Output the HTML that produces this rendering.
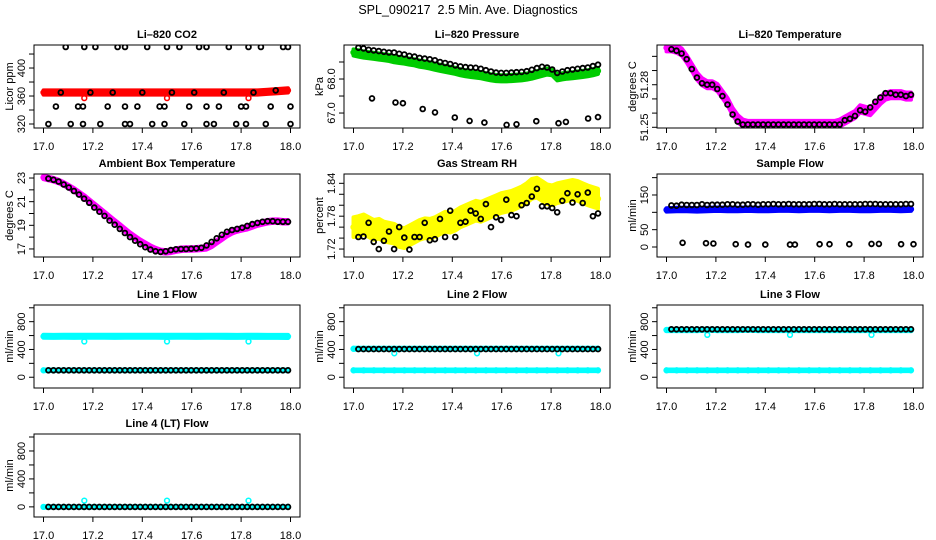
<!DOCTYPE html>
<html><head><meta charset="utf-8"><title>SPL_090217 Diagnostics</title>
<style>
html,body{margin:0;padding:0;background:#fff;}
svg{display:block;font-family:"Liberation Sans",Arial,sans-serif;}
</style></head>
<body>
<svg id="chart" width="936" height="540" viewBox="0 0 936 540" xmlns="http://www.w3.org/2000/svg">
<rect x="0" y="0" width="936" height="540" fill="#fff"/>
<text x="468" y="14" text-anchor="middle" font-size="12.5" style="white-space:pre">SPL_090217&#160; 2.5 Min. Ave. Diagnostics</text>
</svg>
<script>
// ---------- shared axis data ----------
const xTicks = [17.0, 17.2, 17.4, 17.6, 17.8, 18.0];
const xTickLabels = ["17.0", "17.2", "17.4", "17.6", "17.8", "18.0"];
const xStart = 17.0, xEnd = 17.99;
const bStart = 17.02, bEnd = 17.99;

// ---------- CO2 ----------
const co2Ticks = [320, 340, 360, 380, 400, 420];
const co2Labels = ["320", "", "360", "", "400", ""];
const co2Red = [365,365,365,365,365,365,365,365,365,365,365,365,365,365,365,365,365,365,365,365,365,365,366,367,368];
const co2RedSpread = 3;
const co2RedOutX = [17.165, 17.50, 17.83];
const co2RedOutY = [357, 357, 357];
const co2BlackX = [17.09,17.165,17.21,17.30,17.33,17.42,17.50,17.55,17.63,17.66,17.75,17.83,17.88,17.97,17.99,
  17.07,17.19,17.28,17.40,17.52,17.61,17.73,17.85,17.94,
  17.05,17.14,17.16,17.26,17.33,17.38,17.47,17.49,17.59,17.66,17.71,17.80,17.82,17.92,18.00,
  17.02,17.11,17.16,17.23,17.33,17.35,17.44,17.49,17.57,17.66,17.69,17.78,17.82,17.90,18.00];
const co2BlackY = [430,430,430,430,430,430,430,430,430,430,430,430,430,430,430,
  365,365,365,365,365,365,365,365,368,
  345,345,345,345,345,345,345,345,345,345,345,345,345,345,345,
  320,320,320,320,320,320,320,320,320,320,320,320,320,320,320];

// ---------- Pressure ----------
const presTicks = [67.0, 67.5, 68.0, 68.5];
const presLabels = ["67.0", "", "68.0", ""];
const presGreen = [68.78,68.75,68.72,68.70,68.68,68.66,68.64,68.62,68.58,68.56,68.54,68.51,68.49,68.45,68.43,68.40,68.36,68.33,68.30,68.27,68.24,68.20,68.17,68.15,68.13,68.11,68.08,68.05,68.03,68.02,68.02,68.03,68.04,68.05,68.07,68.10,68.14,68.18,68.22,68.20,68.05,68.08,68.10,68.11,68.13,68.15,68.17,68.20,68.24];
const presGreenSpread = 0.09;
const presBlack = [68.92,68.90,68.86,68.84,68.82,68.80,68.78,68.78,68.74,68.72,68.68,68.66,68.62,68.60,68.58,68.55,68.50,68.47,68.44,68.40,68.37,68.35,68.34,68.33,68.30,68.26,68.22,68.19,68.18,68.18,68.19,68.20,68.21,68.23,68.27,68.32,68.36,68.34,68.28,68.18,68.22,68.26,68.28,68.30,68.32,68.34,68.38,68.42];
const presLowX = [17.075,17.17,17.20,17.28,17.33,17.41,17.47,17.53,17.62,17.66,17.74,17.83,17.86,17.95,17.99];
const presLowY = [67.43,67.31,67.29,67.12,67.02,66.87,66.77,66.72,66.65,66.67,66.76,66.70,66.74,66.84,66.88];

// ---------- Li-820 Temperature ----------
const ltTicks = [51.25, 51.26, 51.27, 51.28, 51.29, 51.30];
const ltLabels = ["51.25", "", "", "51.28", "", ""];
const ltMagenta = [51.306,51.306,51.305,51.303,51.298,51.292,51.286,51.282,51.280,51.280,51.278,51.273,51.268,51.261,51.256,51.253,51.252,
  51.252,51.252,51.252,51.252,51.252,51.252,51.252,51.252,51.252,51.252,51.252,51.252,51.252,51.252,51.252,51.252,51.252,
  51.253,51.255,51.257,51.259,51.263,51.262,51.261,51.265,51.269,51.272,51.273,51.273,51.273,51.272,51.272];
const ltMagentaSpread = 0.0025;
const ltBlack = [51.305,51.304,51.302,51.298,51.291,51.285,51.281,51.280,51.280,51.277,51.272,51.266,51.259,51.254,51.252,51.252,51.252,51.252,51.252,51.252,51.252,51.252,51.252,51.252,51.252,51.252,51.252,51.252,51.252,51.252,51.252,51.252,51.252,51.252,51.255,51.256,51.258,51.262,51.261,51.264,51.268,51.271,51.274,51.274,51.273,51.273,51.272,51.273];

// ---------- Ambient ----------
const ambTicks = [17, 18, 19, 20, 21, 22, 23];
const ambLabels = ["17", "", "19", "", "21", "", "23"];
const ambMagenta = [23.05,22.95,22.85,22.7,22.5,22.25,22.0,21.7,21.4,21.05,20.7,20.35,20.0,19.65,19.3,18.95,18.6,18.25,17.95,17.65,17.4,17.15,16.95,16.8,16.75,16.8,16.9,16.97,17.0,17.0,17.02,17.05,17.1,17.3,17.6,17.9,18.2,18.45,18.6,18.7,18.8,18.95,19.1,19.2,19.3,19.35,19.35,19.3,19.3];
const ambMagentaSpread = 0.15;
const ambBlack = [22.95,22.85,22.7,22.45,22.2,21.9,21.6,21.25,20.9,20.5,20.15,19.8,19.4,19.05,18.7,18.35,18.0,17.7,17.4,17.15,16.95,16.8,16.75,16.8,16.9,16.97,17.0,17.0,17.02,17.05,17.1,17.3,17.6,17.9,18.2,18.45,18.6,18.7,18.8,18.95,19.1,19.2,19.3,19.35,19.35,19.3,19.3,19.3];

// ---------- Gas Stream RH ----------
const rhTicks = [1.72, 1.74, 1.76, 1.78, 1.80, 1.82, 1.84];
const rhLabels = ["1.72", "", "", "1.78", "", "", "1.84"];
const rhYellow = [1.760,1.762,1.765,1.760,1.755,1.757,1.752,1.750,1.748,1.742,1.740,1.745,1.750,1.755,1.758,1.757,1.760,1.765,1.770,1.768,1.772,1.778,1.782,1.786,1.790,1.788,1.792,1.796,1.800,1.804,1.806,1.808,1.812,1.816,1.822,1.830,1.832,1.826,1.820,1.818,1.822,1.824,1.826,1.828,1.826,1.822,1.818,1.815,1.812];
const rhYellowSpread = 0.018;
const rhBlack = [1.742,1.743,1.768,1.733,1.720,1.735,1.752,1.720,1.760,1.741,1.719,1.742,1.742,1.768,1.736,1.738,1.775,1.742,1.790,1.742,1.768,1.770,1.790,1.785,1.775,1.802,1.760,1.778,1.773,1.810,1.782,1.780,1.800,1.804,1.816,1.830,1.798,1.798,1.795,1.787,1.808,1.822,1.805,1.820,1.804,1.823,1.780,1.785];

// ---------- Sample Flow ----------
const sfTicks = [0, 50, 100, 150, 200];
const sfLabels = ["0", "50", "", "150", ""];
const sfBlue = [107,108,108,107,108,109,108,108,109,108,108,109,109,108,109,109,108,109,109,108,108,109,109,108,109];
const sfBlueSpread = 5;
const sfBlackTop = [120,119,122,121,121,121,123,121,122,122,122,123,123,122,122,123,123,122,123,123,124,123,123,124,123,123,123,123,124,124,123,123,124,123,123,123,123,123,124,124,124,123,123,123,123,123,124,124];
const sfBlackLowX = [17.065,17.16,17.19,17.28,17.33,17.40,17.50,17.52,17.62,17.66,17.74,17.83,17.86,17.95,18.0];
const sfBlackLowY = [12,11,10,8,7,7,7,7,8,8,8,9,9,8,8];

// ---------- Line flows ----------
const lfTicks = [0, 200, 400, 600, 800, 1000];
const lfLabels = ["0", "", "400", "", "800", ""];
const dipX = [17.165, 17.50, 17.83];
const l1High = [590,588,590,589,590,591,590,589,590,590,591,590,589,590,590,589,590,590,589,588,590,589,588,588,587];
const l1HighSpread = 22;
const l1Low = [100,100,100,100,100,100,100,100,100,100,100,100,100,100,100,100,100,100,100,100,100,100,100,100,100];
const l1Black = [100,100,100,100,100,100,100,100,100,100,100,100,100,100,100,100,100,100,100,100,100,100,100,100,100,100,100,100,100,100,100,100,100,100,100,100,100,100,100,100,100,100,100,100,100,100,100,100];
const l1Dips = [515, 515, 515];
const l2High = [410,410,410,410,410,410,410,410,410,410,410,410,410,410,410,410,410,410,410,410,410,410,410,410,410];
const l2Low = [100,100,100,100,100,100,100,100,100,100,100,100,100,100,100,100,100,100,100,100,100,100,100,100,100];
const l2Black = [405,405,405,405,405,405,405,405,405,405,405,405,405,405,405,405,405,405,405,405,405,405,405,405,405,405,405,405,405,405,405,405,405,405,405,405,405,405,405,405,405,405,405,405,405,405,405,405];
const l2Dips = [345, 345, 345];
const l3High = [680,680,680,680,685,680,680,680,685,680,680,680,680,680,680,680,680,680,680,680,680,680,680,680,680];
const l3Low = [100,100,100,100,100,100,100,100,100,100,100,100,100,100,100,100,100,100,100,100,100,100,100,100,100];
const l3Black = [690,690,690,690,690,690,690,690,690,690,690,690,690,690,690,690,690,690,690,690,690,690,690,690,690,690,690,690,690,690,690,690,690,690,690,690,690,690,690,690,690,690,690,690,690,690,690,690];
const l3Dips = [610, 610, 610];
const l4Cyan = [0,0,0,0,0,0,0,0,0,0,0,0,0,0,0,0,0,0,0,0,0,0,0,0,0];
const l4Black = [0,0,0,0,0,0,0,0,0,0,0,0,0,0,0,0,0,0,0,0,0,0,0,0,0,0,0,0,0,0,0,0,0,0,0,0,0,0,0,0,0,0,0,0,0,0,0,0];
const l4Outliers = [90, 90, 90];

const NS = "http://www.w3.org/2000/svg";
const svg = document.getElementById("chart");
const colLeft = [34, 344, 657];
const rowTop = [45, 174, 305, 434];
const BOX_W = 266, BOX_H = 83;

function mk(tag, attrs, parent) {
  const e = document.createElementNS(NS, tag);
  for (const k in attrs) e.setAttribute(k, attrs[k]);
  (parent || svg).appendChild(e);
  return e;
}
function spanX(n, a, b) {
  const out = [];
  for (let i = 0; i < n; i++) out.push(n === 1 ? a : a + i * (b - a) / (n - 1));
  return out;
}

function panel(cfg) {
  const left = colLeft[cfg.col], top = rowTop[cfg.row];
  const right = left + BOX_W, bottom = top + BOX_H;
  const sx = v => left + 9.5 + (v - 17) * 247;
  const sy = v => bottom - (v - cfg.ymin) / (cfg.ymax - cfg.ymin) * BOX_H;
  const g = mk("g", {});
  
  
  const clip = mk("clipPath", { id: "clip-" + cfg.name }, g);
  mk("rect", { x: left, y: top, width: BOX_W, height: BOX_H }, clip);
  const marks = mk("g", { "clip-path": "url(#clip-" + cfg.name + ")" }, g);
  
  

  cfg.series.forEach(s => {
    const xs = s.x || spanX(s.y.length, s.black ? bStart : xStart, s.black ? bEnd : xEnd);
    if (s.spread) {
      let up = "", lo = "";
      xs.forEach((x, i) => { up += (i ? "L" : "M") + sx(x).toFixed(1) + "," + sy(s.y[i] + s.spread).toFixed(1); });
      for (let i = xs.length - 1; i >= 0; i--) lo += "L" + sx(xs[i]).toFixed(1) + "," + sy(s.y[i] - s.spread).toFixed(1);
      const band = mk("path", { d: up + lo + "Z", fill: s.color, stroke: s.color, "stroke-width": 4, "stroke-linejoin": "round" }, marks);
      
      
    }
    const sw = s.color === "#000000" ? 1.8 : 1.5;
    xs.forEach((x, i) => {
      const c = mk("circle", { cx: sx(x).toFixed(1), cy: sy(s.y[i]).toFixed(1), r: 2.4, fill: "none", stroke: s.color, "stroke-width": sw }, marks);
      
      
    });
  });

  const box = mk("rect", { x: left, y: top, width: BOX_W, height: BOX_H, fill: "none", stroke: "#000", "stroke-width": 1 }, g);
  
  

  xTicks.forEach((t, i) => {
    const x = sx(t);
    mk("line", { x1: x, y1: bottom, x2: x, y2: bottom + 5, stroke: "#000" }, g);
    const tl = mk("text", { x: x, y: bottom + 22, "text-anchor": "middle", "font-size": 11 }, g);
    tl.textContent = xTickLabels[i];
    
    
  });
  cfg.ticks.forEach((t, i) => {
    const y = sy(t);
    mk("line", { x1: left, y1: y, x2: left - 5, y2: y, stroke: "#000" }, g);
    if (cfg.labels[i]) {
      const tl = mk("text", { x: left - 9, y: y, "text-anchor": "middle", "font-size": 11, transform: "rotate(-90," + (left - 9) + "," + y.toFixed(1) + ")" }, g);
      tl.textContent = cfg.labels[i];
      
      
    }
  });
  const cy = (top + bottom) / 2;
  const yt = mk("text", { x: left - 21, y: cy, "text-anchor": "middle", "font-size": 11, transform: "rotate(-90," + (left - 21) + "," + cy + ")" }, g);
  yt.textContent = cfg.ylab;
  
  
  const tt = mk("text", { x: left + BOX_W / 2, y: top - 7, "text-anchor": "middle", "font-size": 11, "font-weight": "bold" }, g);
  tt.textContent = cfg.title;
  
  
}

const RED = "#ff0000", GREEN = "#00cc00", MAG = "#ff00ff", YEL = "#ffff00", BLUE = "#0000ff", CYAN = "#00ffff", BLK = "#000000";

panel({ name: "co2-panel", col: 0, row: 0, title: "Li\u2013820 CO2", ylab: "Licor ppm", ymin: 314.3, ymax: 432.9, ticks: co2Ticks, labels: co2Labels,
  series: [
    { name: "co2-red", y: co2Red, color: RED, spread: co2RedSpread },
    { name: "co2-red-outlier", x: co2RedOutX, y: co2RedOutY, color: RED },
    { name: "co2-black", x: co2BlackX, y: co2BlackY, color: BLK }
  ] });
panel({ name: "pressure-panel", col: 1, row: 0, title: "Li\u2013820 Pressure", ylab: "kPa", ymin: 66.56, ymax: 69.0, ticks: presTicks, labels: presLabels,
  series: [
    { name: "pressure-green", y: presGreen, color: GREEN, spread: presGreenSpread },
    { name: "pressure-black", y: presBlack, color: BLK, black: true },
    { name: "pressure-black-low", x: presLowX, y: presLowY, color: BLK }
  ] });
panel({ name: "li820-temp-panel", col: 2, row: 0, title: "Li\u2013820 Temperature", ylab: "degrees C", ymin: 51.2495, ymax: 51.308, ticks: ltTicks, labels: ltLabels,
  series: [
    { name: "li820-temp-magenta", y: ltMagenta, color: MAG, spread: ltMagentaSpread },
    { name: "li820-temp-black", y: ltBlack, color: BLK, black: true }
  ] });
panel({ name: "ambient-panel", col: 0, row: 1, title: "Ambient Box Temperature", ylab: "degrees C", ymin: 16.32, ymax: 23.34, ticks: ambTicks, labels: ambLabels,
  series: [
    { name: "ambient-magenta", y: ambMagenta, color: MAG, spread: ambMagentaSpread },
    { name: "ambient-black", y: ambBlack, color: BLK, black: true }
  ] });
panel({ name: "rh-panel", col: 1, row: 1, title: "Gas Stream RH", ylab: "percent", ymin: 1.7055, ymax: 1.857, ticks: rhTicks, labels: rhLabels,
  series: [
    { name: "rh-yellow", y: rhYellow, color: YEL, spread: rhYellowSpread },
    { name: "rh-black", y: rhBlack, color: BLK, black: true }
  ] });
panel({ name: "sample-flow-panel", col: 2, row: 1, title: "Sample Flow", ylab: "ml/min", ymin: -28.8, ymax: 210.5, ticks: sfTicks, labels: sfLabels,
  series: [
    { name: "sample-flow-blue", y: sfBlue, color: BLUE, spread: sfBlueSpread },
    { name: "sample-flow-black", y: sfBlackTop, color: BLK, black: true },
    { name: "sample-flow-black-low", x: sfBlackLowX, y: sfBlackLowY, color: BLK }
  ] });
panel({ name: "line1-panel", col: 0, row: 2, title: "Line 1 Flow", ylab: "ml/min", ymin: -155, ymax: 1040, ticks: lfTicks, labels: lfLabels,
  series: [
    { name: "line1-cyan-high", y: l1High, color: CYAN, spread: l1HighSpread },
    { name: "line1-cyan-dip", x: dipX, y: l1Dips, color: CYAN },
    { name: "line1-cyan-low", y: l1Low, color: CYAN, spread: 12 },
    { name: "line1-black", y: l1Black, color: BLK, black: true }
  ] });
panel({ name: "line2-panel", col: 1, row: 2, title: "Line 2 Flow", ylab: "ml/min", ymin: -155, ymax: 1040, ticks: lfTicks, labels: lfLabels,
  series: [
    { name: "line2-cyan-high", y: l2High, color: CYAN, spread: 14 },
    { name: "line2-cyan-dip", x: dipX, y: l2Dips, color: CYAN },
    { name: "line2-cyan-low", y: l2Low, color: CYAN, spread: 12 },
    { name: "line2-black", y: l2Black, color: BLK, black: true }
  ] });
panel({ name: "line3-panel", col: 2, row: 2, title: "Line 3 Flow", ylab: "ml/min", ymin: -155, ymax: 1040, ticks: lfTicks, labels: lfLabels,
  series: [
    { name: "line3-cyan-high", y: l3High, color: CYAN, spread: 16 },
    { name: "line3-cyan-dip", x: dipX, y: l3Dips, color: CYAN },
    { name: "line3-cyan-low", y: l3Low, color: CYAN, spread: 12 },
    { name: "line3-black", y: l3Black, color: BLK, black: true }
  ] });
panel({ name: "line4-panel", col: 0, row: 3, title: "Line 4 (LT) Flow", ylab: "ml/min", ymin: -145, ymax: 1043, ticks: lfTicks, labels: lfLabels,
  series: [
    { name: "line4-cyan", y: l4Cyan, color: CYAN, spread: 10 },
    { name: "line4-cyan-outlier", x: dipX, y: l4Outliers, color: CYAN },
    { name: "line4-black", y: l4Black, color: BLK, black: true }
  ] });
</script>
</body></html>
